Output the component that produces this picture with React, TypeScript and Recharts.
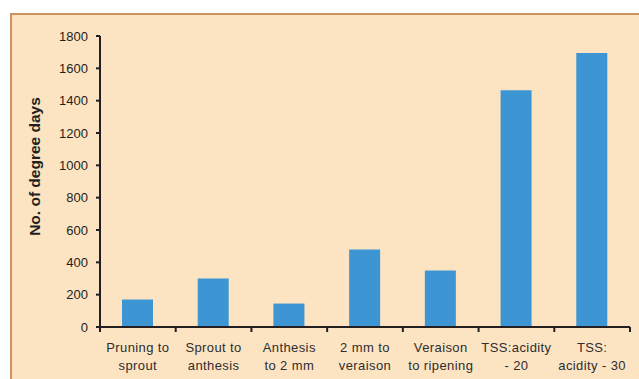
import { BarChart, Bar, XAxis, YAxis, Label } from 'recharts';

// growth stages (line break marks the two-line tick label)
const stages = [
    'Pruning to\nsprout',
    'Sprout to\nanthesis',
    'Anthesis\nto 2 mm',
    '2 mm to\nveraison',
    'Veraison\nto ripening',
    'TSS:acidity\n- 20',
    'TSS:\nacidity - 30',
];
const degreeDays = [170, 300, 145, 480, 350, 1465, 1695];
const yTicks = [0, 200, 400, 600, 800, 1000, 1200, 1400, 1600, 1800];

const data = stages.map((stage, i) => ({ stage, value: degreeDays[i] }));

const INK = '#231f20';
const FONT = '"Liberation Sans", Arial, sans-serif';

const StageTick = (props: any) => {
    const { x, y, payload, index } = props;
    const half = payload?.offset ?? 0;
    const [l1, l2] = String(payload.value).split('\n');
    const last = index === stages.length - 1;
    return (
        <g>
            <line x1={x - half} x2={x - half} y1={y} y2={y + 5} stroke={INK} strokeWidth={2} />
            {last && <line x1={x + half} x2={x + half} y1={y} y2={y + 5} stroke={INK} strokeWidth={2} />}
            <text x={x} y={y + 25} textAnchor="middle" fontSize={13} letterSpacing={0.4} fill="#2f2d2d" fontFamily={FONT}>
                <tspan x={x}>{l1}</tspan>
                <tspan x={x} dy={18}>{l2}</tspan>
            </text>
        </g>
    );
};

const YTitle = (props: any) => {
    const vb = props.viewBox || { x: 0, y: 36, width: 100, height: 291 };
    const cx = vb.x + 34;
    const cy = vb.y + vb.height / 2 - 15;
    return (
        <text
            x={cx}
            y={cy}
            transform={`rotate(-90 ${cx} ${cy})`}
            textAnchor="middle"
            dominantBaseline="central"
            fontSize={15.5}
            fontWeight="bold"
            fill={INK}
            fontFamily={FONT}
        >
            No. of degree days
        </text>
    );
};

export default function App() {
    return (
        <div style={{ position: 'absolute', left: 0, top: 0, width: 639, height: 379, background: '#fff', overflow: 'hidden' }}>
            <div
                style={{
                    position: 'absolute',
                    left: 10,
                    top: 13,
                    right: 0,
                    bottom: 0,
                    background: '#fce4c3',
                    borderTop: '2px solid #cf9160',
                    borderLeft: '2px solid #cf9160',
                }}
            />
            <div style={{ position: 'absolute', left: 0, top: 0 }}>
                <BarChart width={639} height={379} data={data} margin={{ top: 36, right: 9, left: 0, bottom: 0 }}>
                    <XAxis
                        dataKey="stage"
                        height={52}
                        interval={0}
                        axisLine={{ stroke: INK, strokeWidth: 2 }}
                        tickLine={false}
                        tickSize={0}
                        tickMargin={0}
                        tick={<StageTick />}
                    />
                    <YAxis
                        width={100}
                        domain={[0, 1800]}
                        ticks={yTicks}
                        interval={0}
                        axisLine={{ stroke: INK, strokeWidth: 2 }}
                        tickLine={{ stroke: INK, strokeWidth: 2 }}
                        tickSize={4}
                        tickMargin={8}
                        tick={{ fill: INK, fontSize: 13, fontFamily: FONT }}
                    >
                        <Label content={<YTitle />} />
                    </YAxis>
                    <Bar dataKey="value" fill="#3d96d3" barSize={31} isAnimationActive={false} />
                </BarChart>
            </div>
        </div>
    );
}
